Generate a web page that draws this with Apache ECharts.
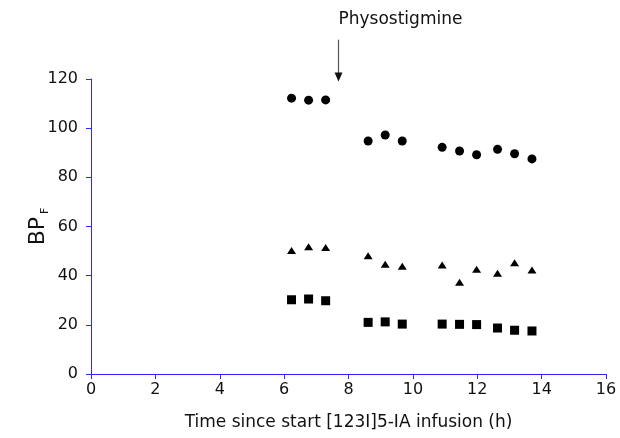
<!DOCTYPE html>
<html>
<head>
<meta charset="utf-8">
<script src="https://cdn.jsdelivr.net/npm/echarts@6/dist/echarts.min.js"></script>
<style>
  html, body { margin: 0; padding: 0; background: #fff; }
  #main { width: 620px; height: 438px; }
</style>
</head>
<body>
<div id="main"></div>
<script>
// time points (h)
var times = [6.23, 6.76, 7.29, 8.61, 9.14, 9.67, 10.91, 11.45, 11.98, 12.63, 13.16, 13.70];
// BP_F values, three regions
var circles   = [112.2, 111.4, 111.5, 94.8, 97.2, 94.8, 92.2, 90.7, 89.2, 91.4, 89.6, 87.5];
var triangles = [50.2, 51.8, 51.5, 48.1, 44.6, 43.8, 44.3, 37.3, 42.6, 41.0, 45.3, 42.3];
var squares   = [30.2, 30.5, 29.8, 21.0, 21.2, 20.3, 20.3, 20.2, 20.1, 18.7, 17.8, 17.5];
// physostigmine arrow: x, top y, tip y (data units)
var drugTime = 7.67;
var arrowTop = 136;
var arrowTip = 119;

var FONT = 'DejaVu Sans';
var axisBlue = '#2a2aff';

function pairs(ys) {
    return ys.map(function (y, i) { return [times[i], y]; });
}

var chart = echarts.init(document.getElementById('main'));
var option = {
    animation: false,
    grid: { left: 91, right: 14, top: 79, bottom: 64 },
    xAxis: {
        type: 'value',
        min: 0, max: 16, interval: 2,
        name: 'Time since start [123I]5-IA infusion (h)',
        nameLocation: 'middle',
        nameGap: 40,
        nameMoveOverlap: false,
        nameTextStyle: { fontFamily: FONT, fontSize: 17, color: '#111' },
        axisLine: { lineStyle: { color: axisBlue, width: 1 } },
        axisTick: { show: true, length: 5, lineStyle: { color: axisBlue } },
        axisLabel: { fontFamily: FONT, fontSize: 16, color: '#111', margin: 8 },
        splitLine: { show: false }
    },
    yAxis: {
        type: 'value',
        min: 0, max: 120, interval: 20,
        name: '{bp|BP}{sub|F}',
        nameLocation: 'middle',
        nameGap: 40,
        nameMoveOverlap: false,
        nameRotate: 90,
        nameTextStyle: {
            fontFamily: FONT, fontSize: 22, color: '#111',
            rich: {
                bp: { fontFamily: FONT, fontSize: 22, color: '#111', lineHeight: 24, verticalAlign: 'top' },
                sub: { fontFamily: FONT, fontSize: 11, color: '#111', lineHeight: 12, verticalAlign: 'bottom', padding: [26, 0, 0, 3] }
            }
        },
        axisLine: { show: true, lineStyle: { color: axisBlue, width: 1 } },
        axisTick: { show: true, length: 5, lineStyle: { color: axisBlue } },
        axisLabel: { fontFamily: FONT, fontSize: 16, color: '#111', margin: 13 },
        splitLine: { show: false }
    },
    series: [
        {
            type: 'scatter', symbol: 'circle', symbolSize: 9,
            itemStyle: { color: '#000', opacity: 1 },
            data: pairs(circles)
        },
        {
            type: 'scatter', symbol: 'triangle', symbolSize: [9, 7],
            itemStyle: { color: '#000', opacity: 1 },
            data: pairs(triangles)
        },
        {
            type: 'scatter', symbol: 'rect', symbolSize: 9,
            itemStyle: { color: '#000', opacity: 1 },
            data: pairs(squares)
        }
    ]
};
chart.setOption(option);

// physostigmine annotation placed through the axis scales
var pTop = chart.convertToPixel({ gridIndex: 0 }, [drugTime, arrowTop]);
var pTip = chart.convertToPixel({ gridIndex: 0 }, [drugTime, arrowTip]);
var x0 = Math.round(pTop[0]) + 0.5;
chart.setOption({
    graphic: [
        {
            type: 'line',
            shape: { x1: x0, y1: pTop[1], x2: x0, y2: pTip[1] - 7 },
            style: { stroke: '#555', lineWidth: 1.2 }
        },
        {
            type: 'polygon',
            shape: { points: [[x0 - 4, pTip[1] - 9], [x0 + 4, pTip[1] - 9], [x0, pTip[1]]] },
            style: { fill: '#111' }
        },
        {
            type: 'text',
            x: x0,
            y: pTop[1] - 20,
            style: {
                text: 'Physostigmine',
                font: '17px "DejaVu Sans"',
                fill: '#111',
                textAlign: 'left',
                textVerticalAlign: 'middle'
            }
        }
    ]
});
</script>
</body>
</html>
